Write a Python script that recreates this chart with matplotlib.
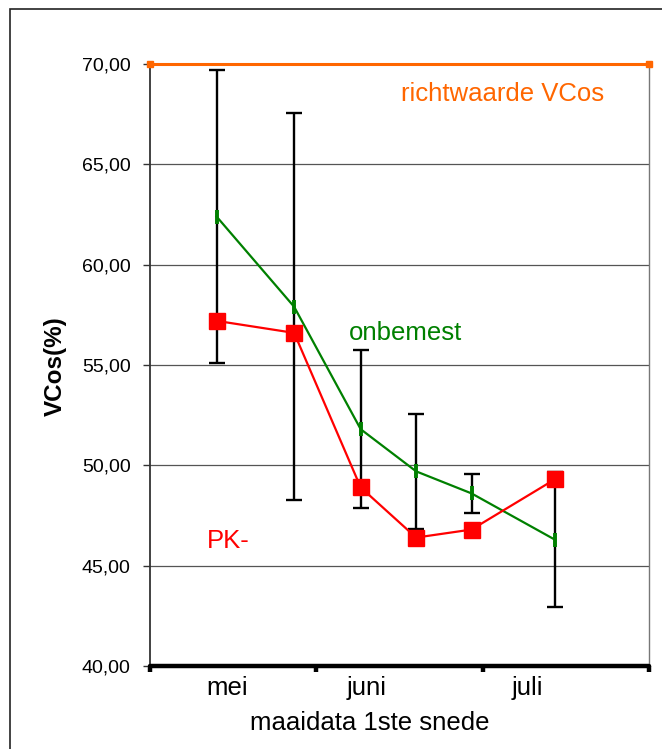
import matplotlib
matplotlib.use('Agg')
import matplotlib.pyplot as plt
import matplotlib.transforms as mtransforms
from matplotlib.patches import Rectangle
from matplotlib.ticker import FuncFormatter

plt.rcParams['font.family'] = ['Liberation Sans', 'DejaVu Sans']

# days after 1 May (30 days per month on the axis)
days = [12, 26, 38, 48, 58, 73]
pk_min = [57.2, 56.6, 48.9, 46.4, 46.8, 49.3]
onbemest = [62.4, 57.9, 51.8, 49.7, 48.6, 46.3]
onbemest_err = [7.3, 9.65, 3.95, 2.85, 0.97, 3.35]
ref_days = [0, 90]
ref_vcos = [70, 70]
month_labels = ['mei', 'juni', 'juli']
month_label_pos = [14, 39, 68]

W, H = 662, 749
fig = plt.figure(figsize=(W / 100, H / 100), dpi=100)
ax = fig.add_axes([150 / W, 1 - 666 / H, 499 / W, 602 / H])

# outer chart frame
fig.patches.append(Rectangle((10 / W, -0.1), 1.2, 1.1 - 9 / H, transform=fig.transFigure,
                             fill=False, edgecolor='#222222', linewidth=1.2))

ax.set_xlim(0, 90)
ax.set_ylim(40, 70)

for y in [45, 50, 55, 60, 65]:
    ax.axhline(y, color='#555555', linewidth=0.9, zorder=1)

ax.errorbar(days, onbemest, yerr=onbemest_err, fmt='none', ecolor='black',
            elinewidth=1.7, capsize=5.5, capthick=1.7, zorder=3)
ax.plot(days, onbemest, color='#008000', linewidth=1.6, marker='|',
        markersize=10, markeredgewidth=2.8, zorder=4)
ax.plot(days, pk_min, color='#FF0000', linewidth=1.6, marker='s',
        markersize=11, zorder=5)
ax.plot(ref_days, ref_vcos, color='#FF6600', linewidth=2.2, marker='s',
        markersize=5, clip_on=False, zorder=6)

ax.text(45.2, 68.15, 'richtwaarde VCos', color='#FF6600', fontsize=18.5, va='baseline')
ax.text(35.8, 56.25, 'onbemest', color='#008000', fontsize=18.5, va='baseline')
ax.text(10.3, 45.9, 'PK-', color='#FF0000', fontsize=18.5, va='baseline')

# axes styling
ax.spines['top'].set_visible(False)
ax.spines['left'].set_color('#333333')
ax.spines['left'].set_linewidth(1.3)
ax.spines['right'].set_color('#777777')
ax.spines['right'].set_linewidth(1.0)
ax.spines['bottom'].set_color('black')
ax.spines['bottom'].set_linewidth(3.2)
ax.spines['bottom'].set_capstyle('round')

ax.set_yticks([40, 45, 50, 55, 60, 65, 70])
ax.yaxis.set_major_formatter(FuncFormatter(lambda v, p: ('%.2f' % v).replace('.', ',')))
ax.tick_params(axis='y', length=5, width=1, color='#333333', pad=9, labelsize=14)

ax.set_xticks([0, 30, 60, 90])
ax.set_xticklabels([])
ax.tick_params(axis='x', length=4, width=3.2, color='black', direction='out')

trans = mtransforms.blended_transform_factory(ax.transData, fig.transFigure)
for pos, lab in zip(month_label_pos, month_labels):
    ax.text(pos, 1 - 695 / H, lab, transform=trans, ha='center', va='baseline',
            fontsize=18.5)

fig.text(370 / W, 1 - 730 / H, 'maaidata 1ste snede', ha='center', va='baseline',
         fontsize=18.5)
fig.text(55 / W, 1 - 366 / H, 'VCos(%)', rotation=90, ha='center', va='center',
         fontsize=17.5, fontweight='bold')

fig.savefig('out.png', dpi=100)
